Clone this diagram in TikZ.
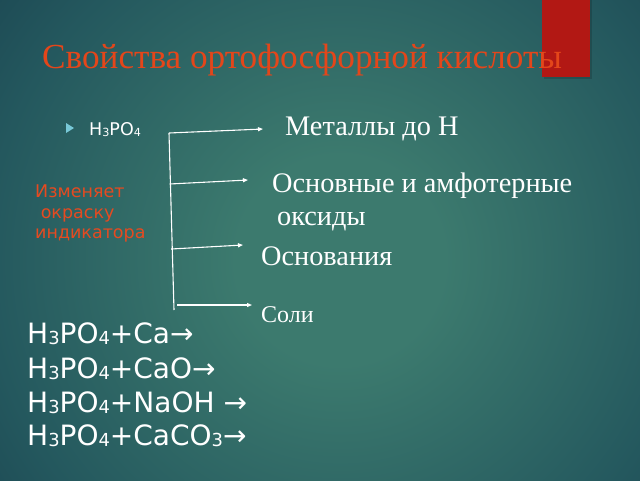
\documentclass[tikz,border=0pt]{standalone}
\usepackage{fontspec}
\setmainfont{Liberation Serif}
\newfontfamily\sansf{DejaVu Sans}
\usetikzlibrary{arrows.meta}
\definecolor{bgin}{RGB}{60,122,110}
\definecolor{bgmid}{RGB}{36,88,94}
\definecolor{bgout}{RGB}{14,42,62}
\definecolor{titlered}{RGB}{228,70,26}
\definecolor{boxred}{RGB}{178,24,20}
\definecolor{notered}{RGB}{230,74,32}
\definecolor{bulletcyan}{RGB}{120,200,215}
\pgfdeclareradialshading{bgshade}{\pgfpoint{0bp}{0bp}}{color(0bp)=(bgin); color(5bp)=(bgin); color(17bp)=(bgmid); color(31bp)=(bgout); color(50bp)=(bgout)}
\newcommand\lo[1]{\raisebox{-0.06em}{\scalebox{0.64}{#1}}}
\tikzset{
  txt/.style={inner sep=0pt, anchor=base west, text=white},
  serifbig/.style={txt, font=\fontsize{28.3}{30}\selectfont},
  sansbig/.style={txt, font=\sansf\fontsize{28}{30}\selectfont},
  note/.style={inner sep=0pt, anchor=base west, text=notered, font=\sansf\fontsize{17.5}{20}\selectfont},
  conn/.style={white, line width=1.1pt},
  arr/.style={conn, -{Triangle[length=5pt,width=4pt]}}
}
\begin{document}
\begin{tikzpicture}[x=1pt,y=-1pt]
\useasboundingbox (0,0) rectangle (640,480);
\begin{scope}
\clip (0,0) rectangle (640,480);
\fill[bgout] (0,0) rectangle (640,480);
\shade[shading=bgshade] (340,260) circle (520);
\end{scope}
% red box
\fill[black, opacity=0.15] (543.5,0) rectangle (591.5,78.5);
\fill[boxred] (542,0) rectangle (590,77);
% title
\node[inner sep=0pt, anchor=base west, text=titlered, font=\fontsize{35.2}{38}\selectfont] (title) at (42,68) {Свойства ортофосфорной кислоты};
% bullet
\fill[bulletcyan] (66,123) -- (74,128) -- (66,133) -- cycle;
\node[txt, font=\sansf\fontsize{17.5}{19}\selectfont] (acid) at (89,135) {H\lo{3}PO\lo{4}};
% right column
\node[serifbig] (met) at (285,135) {Металлы до Н};
\node[serifbig] (oxa) at (272,192) {Основные и амфотерные};
\node[serifbig] (oxb) at (277,225) {оксиды};
\node[serifbig] (bas) at (261,265) {Основания};
\node[txt, font=\fontsize{24}{26}\selectfont] (salt) at (261,322) {Соли};
% red note
\node[note] (n1) at (35,197) {Изменяет};
\node[note] (n2) at (35,218) {\ окраску};
\node[note] (n3) at (35,238) {индикатора};
% connector lines
\coordinate (vtop) at (169,133);
\coordinate (vbot) at (174,310);
\coordinate (s2) at (169.6,184);
\coordinate (s3) at (171.2,249);
\coordinate (s4) at (177,305);
\coordinate (t1) at (263,129);
\coordinate (t2) at (248,180);
\coordinate (t3) at (243,245);
\coordinate (t4) at (252,305);
\draw[conn] (vtop) -- (vbot);
\draw[arr] (vtop) -- (t1);
\draw[arr] (s2) -- (t2);
\draw[arr] (s3) -- (t3);
\draw[arr] (s4) -- (t4);
% equations
\node[sansbig] (e1) at (27,343) {H\lo{3}PO\lo{4}+Ca→};
\node[sansbig] (e2) at (27,378) {H\lo{3}PO\lo{4}+CaO→};
\node[sansbig] (e3) at (27,412) {H\lo{3}PO\lo{4}+NaOH →};
\node[sansbig] (e4) at (27,445) {H\lo{3}PO\lo{4}+CaCO\lo{3}→};
\end{tikzpicture}
\end{document}
